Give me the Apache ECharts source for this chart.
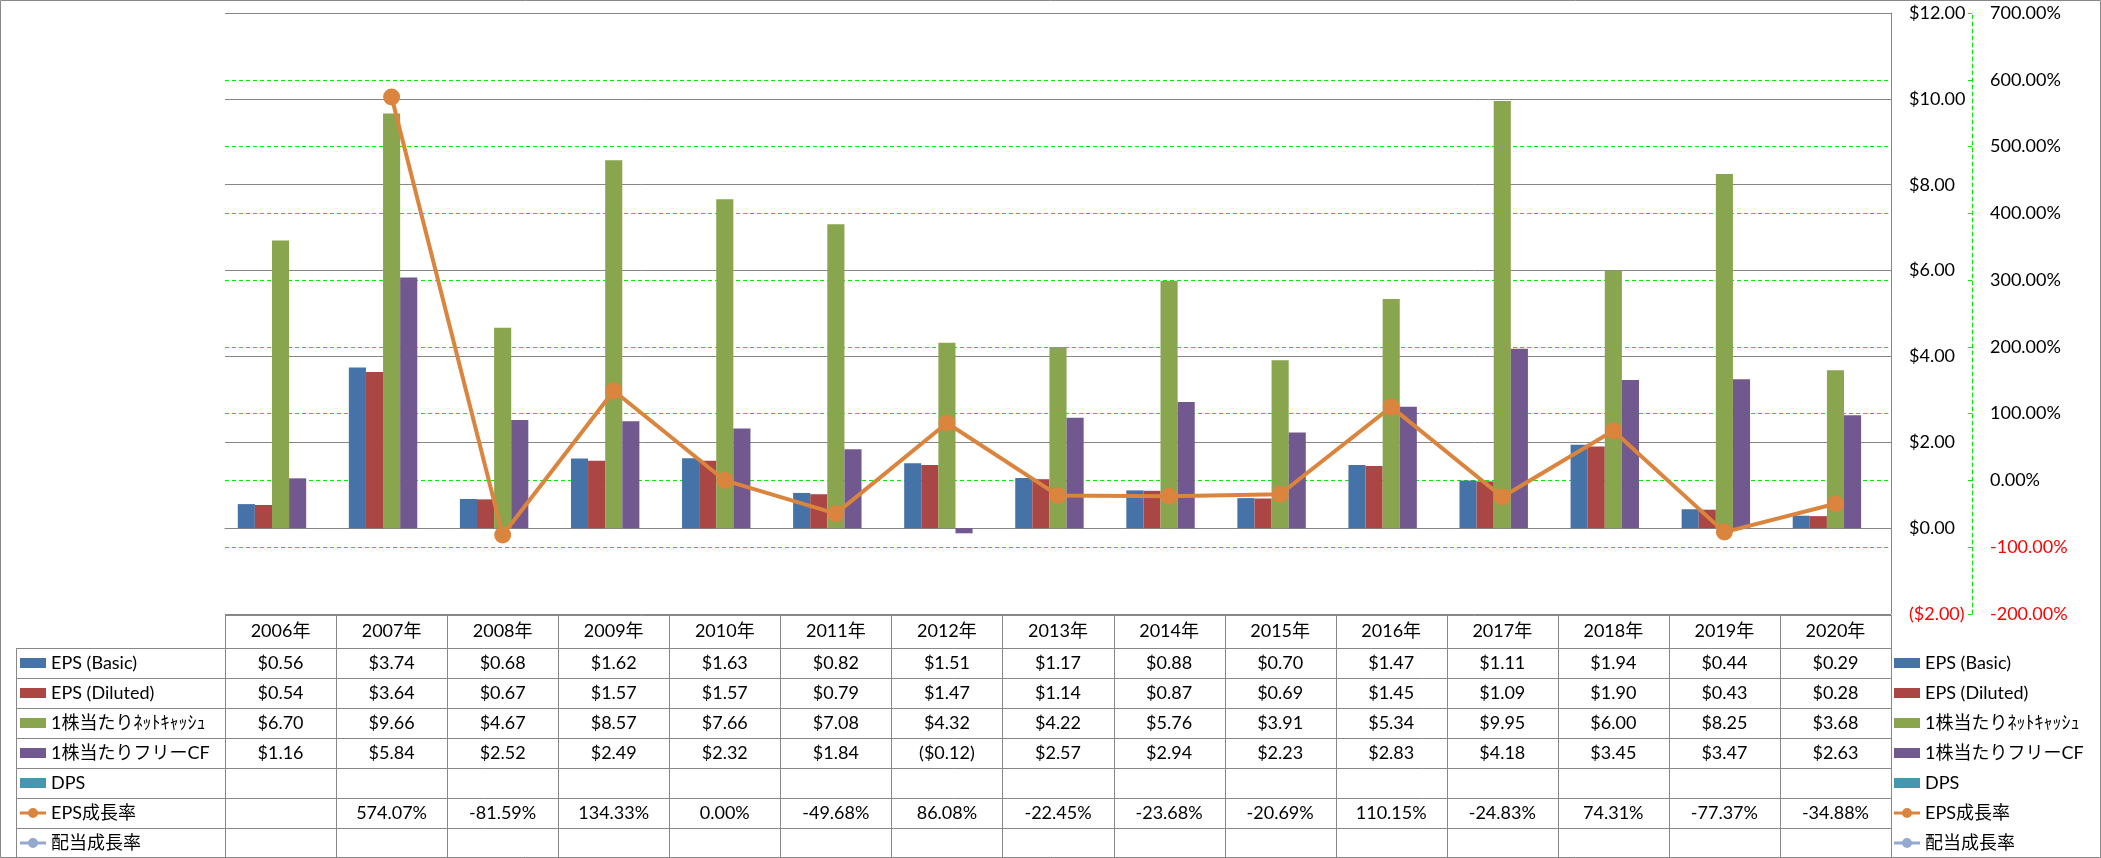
<!DOCTYPE html>
<html><head><meta charset="utf-8">
<script src="https://cdn.jsdelivr.net/npm/echarts@6/dist/echarts.min.js"></script>
<style>html,body{margin:0;padding:0;background:#fff}#c{width:2101px;height:858px}</style>
</head><body><div id="c"></div>
<script>
const years = ['2006年','2007年','2008年','2009年','2010年','2011年','2012年','2013年','2014年','2015年','2016年','2017年','2018年','2019年','2020年'];
const epsBasic   = [0.56,3.74,0.68,1.62,1.63,0.82,1.51,1.17,0.88,0.70,1.47,1.11,1.94,0.44,0.29];
const epsDiluted = [0.54,3.64,0.67,1.57,1.57,0.79,1.47,1.14,0.87,0.69,1.45,1.09,1.90,0.43,0.28];
const netCash    = [6.70,9.66,4.67,8.57,7.66,7.08,4.32,4.22,5.76,3.91,5.34,9.95,6.00,8.25,3.68];
const fcf        = [1.16,5.84,2.52,2.49,2.32,1.84,-0.12,2.57,2.94,2.23,2.83,4.18,3.45,3.47,2.63];
const dps        = [null,null,null,null,null,null,null,null,null,null,null,null,null,null,null];
const epsGrowth  = [null,574.07,-81.59,134.33,0.00,-49.68,86.08,-22.45,-23.68,-20.69,110.15,-24.83,74.31,-77.37,-34.88];
const divGrowth  = [null,null,null,null,null,null,null,null,null,null,null,null,null,null,null];
const seriesNames = ['EPS (Basic)','EPS (Diluted)','1株当たりﾈｯﾄｷｬｯｼｭ','1株当たりフリーCF','DPS','EPS成長率','配当成長率'];
const colors = ['#4572A7','#AA4643','#89A54E','#71588F','#4198AF','#DB843D','#93A9CF'];

const FONT = "Lato, 'Noto Sans CJK JP', sans-serif";
const chart = echarts.init(document.getElementById('c'));

const fmtMoney = v => v == null ? '' : (v < 0 ? '($' + Math.abs(v).toFixed(2) + ')' : '$' + v.toFixed(2));
const fmtPct = v => v == null ? '' : v.toFixed(2) + '%';

const barSeries = [epsBasic, epsDiluted, netCash, fcf, dps].map((d, i) => ({
  name: seriesNames[i], type: 'bar', data: d, yAxisIndex: 0, barGap: '0%', barCategoryGap: '23%',
  itemStyle: {color: colors[i]}
}));

const lineIcon = 'path://M0,3.5h26v3h-26z M13,0a5,5 0 1,1 0,10a5,5 0 1,1 0,-10z';
const legendCommon = {
  orient: 'vertical', selectedMode: false, itemWidth: 26, itemHeight: 10, itemGap: 0, padding: 0,
  textStyle: {fontSize: 18, lineHeight: 30, color: '#000', fontFamily: FONT},
  data: seriesNames.map((n, i) => ({name: n, icon: i < 5 ? 'rect' : lineIcon}))
};

chart.setOption({
  animation: false,
  color: colors,
  grid: {left: 225, right: 210, top: 13, bottom: 244, containLabel: false},
  legend: [
    Object.assign({left: 20, top: 648}, legendCommon),
    Object.assign({left: 1894, top: 648}, legendCommon)
  ],
  xAxis: {type: 'category', data: years,
    axisLine: {show: true, onZero: true, lineStyle: {color: '#868686'}},
    axisTick: {show: false}, axisLabel: {show: false}, splitLine: {show: false}},
  yAxis: [
    {type: 'value', position: 'right', min: -2, max: 12, interval: 2, z: 2,
     axisLine: {show: true, lineStyle: {color: '#868686'}}, axisTick: {show: false},
     axisLabel: {margin: 18, fontSize: 18, fontFamily: FONT, formatter: fmtMoney,
       color: v => Number(v) < 0 ? '#FF0000' : '#000'},
     splitLine: {show: true, lineStyle: {color: '#868686', width: 1}}},
    {type: 'value', position: 'right', offset: 81, min: -200, max: 700, interval: 100, z: 1,
     axisLine: {show: true, lineStyle: {color: '#00EE00', type: [4, 3]}},
     axisTick: {show: true, inside: true, length: 4, lineStyle: {color: '#00EE00'}},
     axisLabel: {margin: 18, fontSize: 18, fontFamily: FONT, formatter: fmtPct,
       color: v => Number(v) < 0 ? '#FF0000' : '#000'},
     splitLine: {show: true, lineStyle: {color: '#00EE00', width: 1, type: [4, 3]}}}
  ],
  series: barSeries.concat([
    {name: seriesNames[5], type: 'line', yAxisIndex: 1, data: epsGrowth, z: 5,
     symbol: 'circle', symbolSize: 17, lineStyle: {width: 4, color: colors[5]}, itemStyle: {color: colors[5]}},
    {name: seriesNames[6], type: 'line', yAxisIndex: 1, data: divGrowth, z: 5,
     symbol: 'circle', symbolSize: 17, lineStyle: {width: 4, color: colors[6]}, itemStyle: {color: colors[6]}}
  ])
});

// data table under the plot
const rowsData = [epsBasic.map(fmtMoney), epsDiluted.map(fmtMoney), netCash.map(fmtMoney), fcf.map(fmtMoney),
  dps.map(fmtMoney), epsGrowth.map(fmtPct), divGrowth.map(fmtPct)];
const headerTop = 615, headerBottom = 648, rowH = 30, tableLeft = 16, tableBottom = 857;
const centers = years.map((y, i) => chart.convertToPixel({xAxisIndex: 0}, i));
const band = centers[1] - centers[0];
const colLeft = centers[0] - band / 2, colRight = centers[centers.length - 1] + band / 2;
const LC = '#888888';
const g = [];
const hline = (x1, x2, y) => g.push({type: 'line', shape: {x1, y1: y + 0.5, x2, y2: y + 0.5}, style: {stroke: LC, lineWidth: 1}, silent: true});
const vline = (x, y1, y2) => g.push({type: 'line', shape: {x1: Math.round(x) + 0.5, y1, x2: Math.round(x) + 0.5, y2}, style: {stroke: LC, lineWidth: 1}, silent: true});
hline(colLeft, colRight, headerTop);
for (let r = 0; r < 7; r++) hline(tableLeft, colRight, headerBottom + r * rowH);
for (let i = 0; i <= years.length; i++) vline(colLeft + i * band, headerTop, tableBottom);
vline(tableLeft, headerBottom, tableBottom);
years.forEach((y, i) => {
  g.push({type: 'text', x: centers[i], y: (headerTop + headerBottom) / 2, silent: true,
    style: {text: y, fontSize: 18, fontFamily: FONT, fill: '#000', align: 'center', verticalAlign: 'middle'}});
  rowsData.forEach((row, r) => {
    if (!row[i]) return;
    g.push({type: 'text', x: centers[i], y: headerBottom + r * rowH + rowH / 2, silent: true,
      style: {text: row[i], fontSize: 18, fontFamily: FONT, fill: '#000', align: 'center', verticalAlign: 'middle'}});
  });
});
g.push({type: 'rect', shape: {x: 0.5, y: 0.5, width: 2100, height: 857}, style: {fill: 'none', stroke: LC, lineWidth: 1}, silent: true});
chart.setOption({graphic: g});
</script></body></html>
